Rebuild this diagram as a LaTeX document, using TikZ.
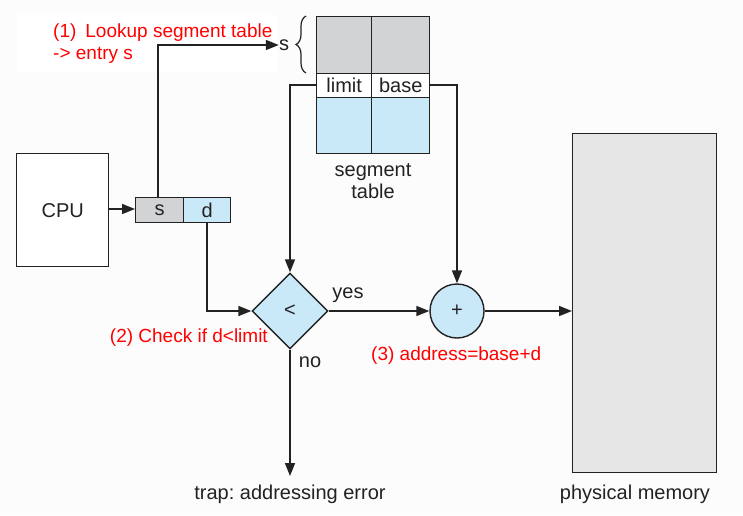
\documentclass[tikz,border=0pt]{standalone}
\usepackage{fontspec}
\setmainfont{Liberation Sans}
\usetikzlibrary{arrows.meta,shapes.geometric,decorations.pathreplacing}
\definecolor{bg}{HTML}{FCFCFC}
\definecolor{cellgray}{HTML}{D1D3D4}
\definecolor{cellblue}{HTML}{C9E8F8}
\definecolor{memgray}{HTML}{E6E6E6}
\definecolor{ink}{HTML}{222222}
\tikzset{
  box/.style={draw=ink, line width=1.4pt, inner sep=0pt, anchor=north west},
  conn/.style={draw=ink, line width=1.6pt},
  arr/.style={conn, -{Triangle[length=13pt,width=10pt]}},
  lbl/.style={text=ink, font=\fontsize{20}{23}\selectfont, inner sep=0pt},
  redlbl/.style={text=red, font=\fontsize{19}{23}\selectfont, inner sep=0pt},
}
\frenchspacing
\begin{document}
\begin{tikzpicture}[x=1pt,y=-1pt]
\useasboundingbox (0,0) rectangle (743,515);
\fill[bg] (0,0) rectangle (743,515);
\fill[white] (17,15) rectangle (277,72);

% red step 1
\node[redlbl, anchor=west] (r1a) at (53,33) {(1)\hspace{9pt}Lookup segment table};
\node[redlbl, anchor=west] (r1b) at (53,55) {-> entry s};

% CPU
\node[box, fill=white, minimum width=92pt, minimum height=113pt] (cpu) at (16,153) {};
\node[lbl] at (cpu.center) {CPU};

% logical address s | d
\node[box, fill=cellgray, minimum width=48pt, minimum height=25pt] (sbox) at (135,197) {};
\node[box, fill=cellblue, minimum width=47pt, minimum height=25pt] (dbox) at (183,197) {};
\node[lbl] at (sbox.center) {s};
\node[lbl] at (dbox.center) {d};

% segment table
\node[box, fill=cellgray, minimum width=55pt, minimum height=57pt] (g1) at (316,16) {};
\node[box, fill=cellgray, minimum width=58pt, minimum height=57pt] (g2) at (371,16) {};
\node[box, fill=white, minimum width=55pt, minimum height=24pt] (limit) at (316,73) {};
\node[box, fill=white, minimum width=58pt, minimum height=24pt] (base) at (371,73) {};
\node[box, fill=cellblue, minimum width=55pt, minimum height=56pt] (b1) at (316,97) {};
\node[box, fill=cellblue, minimum width=58pt, minimum height=56pt] (b2) at (371,97) {};
\node[lbl] at (limit.center) {limit};
\node[lbl] at (base.center) {base};
\node[lbl, align=center] (segtxt) at (373,181) {segment\\[-1pt]table};

% brace and s
\draw[ink, line width=1.2pt, decoration={brace, amplitude=10pt}, decorate] (306,73) -- (306,16);
\node[lbl] (sent) at (284,45) {s};

% comparison and adder
\node[draw=ink, line width=1.4pt, fill=cellblue, diamond, aspect=1, minimum size=76pt, inner sep=0pt] (cmp) at (290,311) {};
\node[lbl] at (cmp.center) {<};
\node[draw=ink, line width=1.4pt, fill=cellblue, circle, minimum size=54pt, inner sep=0pt] (add) at (457,311) {};
\node[lbl] at (add.center) {+};

% physical memory
\node[box, fill=memgray, minimum width=144pt, minimum height=339pt] (mem) at (572,133) {};
\node[lbl] (memtxt) at (635,494) {physical memory};
\node[lbl] (trap) at (290,494) {trap: addressing error};
\coordinate (trapin) at (290,476);

% connectors
\draw[arr] (cpu.east |- 0,209) -- (sbox.west |- 0,209);
\draw[arr] (158,197) |- (sent.west);
\draw[arr] (limit.west |- 0,85) -- (290,85) -- (cmp.north);
\draw[arr] (base.east |- 0,85) -- (457,85) -- (add.north);
\draw[arr] (dbox.south) |- (cmp.west);
\draw[arr] (cmp.east) -- (add.west);
\draw[arr] (cmp.south) -- (trapin);
\draw[arr] (add.east) -- (mem.west |- add.east);

% labels
\node[lbl] at (348,295) {yes};
\node[lbl] at (310,362) {no};
\node[redlbl, anchor=east] at (268,338) {(2) Check if d<limit};
\node[redlbl, anchor=west] at (371,356) {(3) address=base+d};
\end{tikzpicture}
\end{document}
